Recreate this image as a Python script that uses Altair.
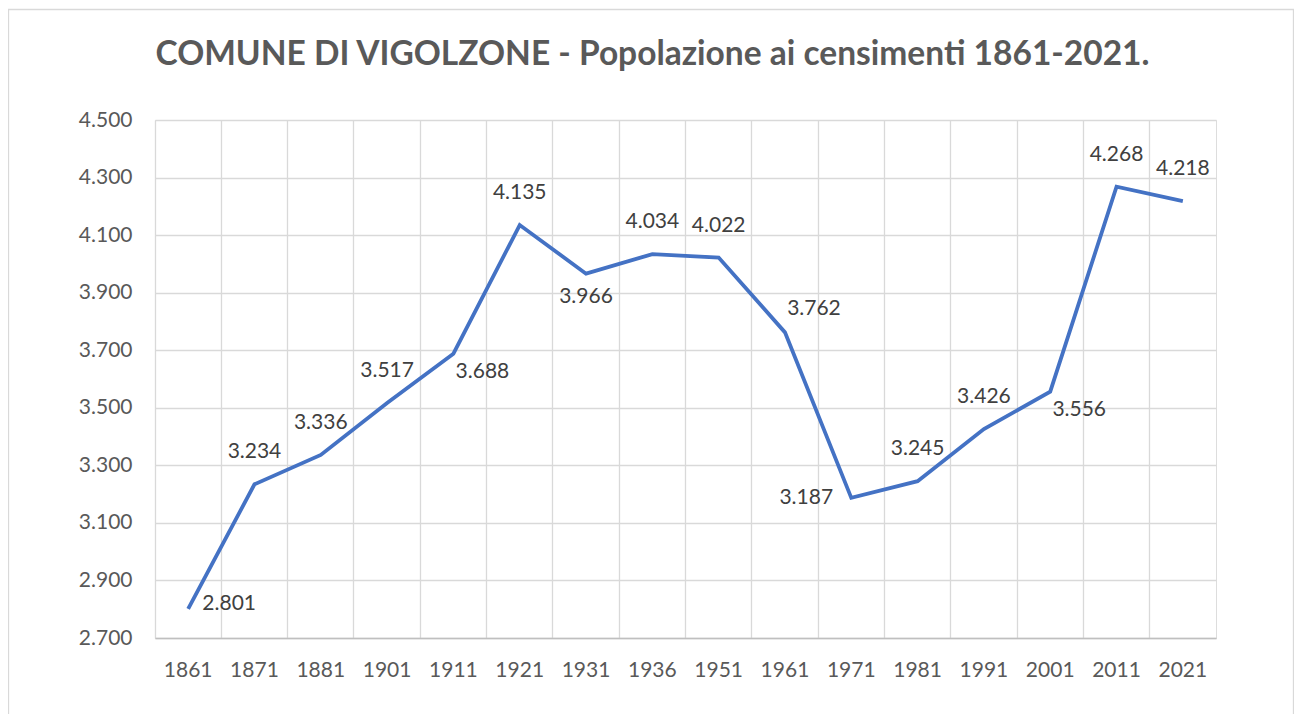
import altair as alt
import pandas as pd

years = ["1861", "1871", "1881", "1901", "1911", "1921", "1931", "1936",
         "1951", "1961", "1971", "1981", "1991", "2001", "2011", "2021"]
population = [2801, 3234, 3336, 3517, 3688, 4135, 3966, 4034,
              4022, 3762, 3187, 3245, 3426, 3556, 4268, 4218]
label_place = ["right", "above", "above", "above", "right-below", "above", "below", "above",
               "above", "right-above", "left", "above", "above", "right-below", "above", "above"]

y_ticks = [2700, 2900, 3100, 3300, 3500, 3700, 3900, 4100, 4300, 4500]
title_text = "COMUNE DI VIGOLZONE - Popolazione ai censimenti 1861-2021."

df = pd.DataFrame({"year": years, "pop": population, "place": label_place})

FONT = "Lato"
GRID = "#d9d9d9"
TXT = "#595959"
W, H = 1061, 518

x_enc = alt.X(
    "year:O", sort=years,
    scale=alt.Scale(type="band", paddingInner=0, paddingOuter=0),
    bandPosition=0.5,
    axis=alt.Axis(title=None, bandPosition=0, grid=True,
                  gridColor=GRID, gridWidth=1.3, ticks=False, domainColor="#bfbfbf",
                  domainWidth=1.3, labelAngle=0, labelPadding=21, labelFontSize=21,
                  labelColor=TXT, labelFont=FONT),
)
y_enc = alt.Y(
    "pop:Q",
    scale=alt.Scale(domain=[2700, 4500], nice=False, zero=False),
    axis=alt.Axis(title=None, values=y_ticks,
                  labelExpr="replace(format(datum.value, ','), ',', '.')",
                  grid=True, gridColor=GRID, gridWidth=1.3, ticks=False, domain=False,
                  labelPadding=23, labelFontSize=21, labelColor=TXT, labelFont=FONT),
)

base = alt.Chart(df).encode(x=x_enc, y=y_enc)

line = base.mark_line(color="#4472C4", strokeWidth=3.8, strokeJoin="miter", strokeCap="butt")

offsets = {
    "above": (0, -32),
    "below": (0, 23),
    "right": (41, -5),
    "left": (-45, 0),
    "right-below": (29, 18),
    "right-above": (29, -23),
}

label_base = base.transform_calculate(
    label="replace(format(datum.pop, ','), ',', '.')"
)

text_layers = []
for place, (dx, dy) in offsets.items():
    text_layers.append(
        label_base.transform_filter(alt.datum.place == place)
        .mark_text(font=FONT, fontSize=21, color="#404040", dx=dx, dy=dy,
                   align="center", baseline="middle")
        .encode(text="label:N")
    )

frame = alt.Chart(pd.DataFrame({"f": [0]})).mark_rect(
    fillOpacity=0, stroke=GRID, strokeWidth=1.3
).encode(
    x=alt.value(-146.5), x2=alt.value(1138.5),
    y=alt.value(-110.5), y2=alt.value(700),
)

chart = alt.layer(frame, line, *text_layers).properties(
    width=W, height=H,
    title=alt.TitleParams(title_text, font=FONT, fontSize=33.5, fontWeight="bold",
                          color=TXT, anchor="middle", dx=-33, offset=-64),
    autosize=alt.AutoSizeParams(type="none"),
    padding={"left": 147, "top": 112, "right": 78, "bottom": 76},
).configure_view(stroke=GRID, strokeWidth=1.3).configure(background="white")

chart.save("out.html", embed_options={"renderer": "svg", "actions": False})
